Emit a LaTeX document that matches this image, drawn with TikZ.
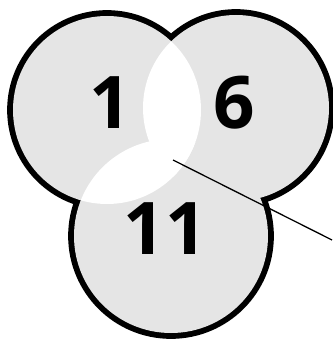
\documentclass[tikz,border=0pt]{standalone}
\usepackage{fontspec}
\newfontfamily\digitfont{Open Sans}
\newcommand{\rimwidth}{10pt}
\tikzset{
  num/.style={font=\digitfont\bfseries\fontsize{62}{62}\selectfont, inner sep=0pt},
  rim/.style={draw=black, line width=\rimwidth},
  shade/.style={fill=black!10},
}

\begin{document}
\begin{tikzpicture}[x=0.03cm, y=-0.03cm]
        \useasboundingbox (0,0) rectangle (332,341);

        % Centres of the three discs
        \coordinate (c1) at (107,110);
        \coordinate (c6) at (236,108);
        \coordinate (c11) at (171,236);

        % --- Outer rim: thick strokes, inner half covered by the fill ---
        \draw[rim] (c1) circle (94);
        \draw[rim] (c6) circle (93);
        \draw[rim] (c11) circle (97);

        % --- Grey discs ---
        \fill[shade] (c1) circle (94);
        \fill[shade] (c6) circle (93);
        \fill[shade] (c11) circle (97);

        % --- Overlaps of the left disc stay white ---
        \begin{scope}
            \clip (c1) circle (94);
            \fill[white] (c6) circle (93);
            \fill[white] (c11) circle (97);
        \end{scope}

        % Numbers
        \node[num] (n1) at (110,103) {1};
        \node[num] (n6) at (234,103) {6};
        \node[num] (n11) at (165,229) {11};

        % Pointer line from the middle out to the right
        \coordinate (hub) at (173,160);
        \coordinate (tail) at (332,240);
        \draw[line width=1.1pt] (hub) -- (tail);
\end{tikzpicture}
\end{document}
